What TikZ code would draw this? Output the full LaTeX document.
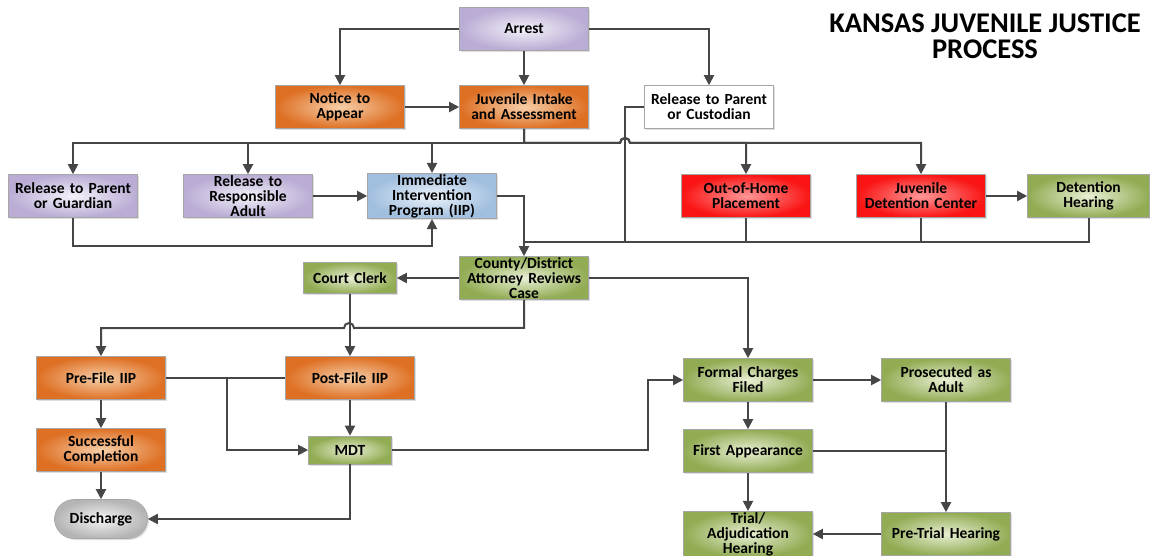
\documentclass[tikz,border=0pt]{standalone}
\usepackage{fontspec}
\setmainfont{Carlito}
\usepackage{tikz}
\usetikzlibrary{shapes.geometric, shapes.misc, arrows.meta, shadows}
\usepackage{xcolor}
\definecolor{linegray}{RGB}{70,70,70}
\definecolor{purpout}{RGB}{186,172,212}
\definecolor{purpin}{RGB}{244,241,249}
\definecolor{orgout}{RGB}{222,112,36}
\definecolor{orgin}{RGB}{246,206,168}
\definecolor{blueout}{RGB}{160,190,222}
\definecolor{bluein}{RGB}{236,243,250}
\definecolor{redout}{RGB}{250,20,20}
\definecolor{redin}{RGB}{255,150,150}
\definecolor{grnout}{RGB}{146,172,84}
\definecolor{grnin}{RGB}{232,239,212}
\definecolor{grayout}{RGB}{180,180,180}
\definecolor{grayin}{RGB}{245,245,245}
\tikzstyle{whrect} = [rectangle,
minimum width=129pt,
minimum height=43pt,
text centered,
text width=126pt,
inner sep=1pt,
font=\fontsize{15.5}{15}\selectfont\bfseries,
draw=black!35, line width=0.6pt,
drop shadow={shadow xshift=1.5pt, shadow yshift=-1.5pt, opacity=0.25}]
\tikzstyle{purprect} = [whrect, inner color=purpin, outer color=purpout]
\tikzstyle{orgrect} = [whrect, inner color=orgin, outer color=orgout]
\tikzstyle{bluerect} = [whrect, inner color=bluein, outer color=blueout]
\tikzstyle{redrect} = [whrect, inner color=redin, outer color=redout]
\tikzstyle{grnrect} = [whrect, inner color=grnin, outer color=grnout]
\tikzstyle{whiterect} = [whrect, fill=white]
\tikzstyle{discrect} = [whrect, rounded rectangle, minimum width=95pt, minimum height=39pt,
text width=85pt, inner color=grayin, outer color=grayout]
\tikzstyle{arrline} = [-{Triangle[length=10pt,width=10pt]}, draw=linegray, line width=2pt]
\tikzstyle{plainline} = [draw=linegray, line width=2pt]

\begin{document}
\begin{tikzpicture}[x=1pt, y=1pt]
		\useasboundingbox (0,0) rectangle (1150,-556);
		% top rows
		\node (arrest) [purprect] at (524,-29) {Arrest};
		\node (notice) [orgrect] at (340,-107) {Notice to\\Appear};
		\node (intake) [orgrect] at (524,-107) {Juvenile Intake\\and Assessment};
		\node (custodian) [whiterect] at (709,-107) {Release to Parent\\or Custodian};
		\node (title) [align=center, font=\fontsize{28.5}{26}\selectfont\bfseries] at (985,-36) {KANSAS JUVENILE JUSTICE\\PROCESS};
		
		\node (guardian) [purprect] at (73,-196) {Release to Parent\\or Guardian};
		\node (responsible) [purprect] at (248,-196) {Release to\\Responsible\\Adult};
		\node (iip) [bluerect] at (432,-196) {Immediate\\Intervention\\Program (IIP)};
		\node (outhome) [redrect] at (746,-196) {Out-of-Home\\Placement};
		\node (detention) [redrect] at (921,-196) {Juvenile\\Detention Center};
		\node (dhearing) [grnrect, minimum width=122pt, text width=118pt] at (1088.5,-196) {Detention\\Hearing};
		
		% middle and bottom
		\node (county) [grnrect] at (524,-278) {County/District\\Attorney Reviews\\Case};
		\node (clerk) [grnrect, minimum width=93pt, minimum height=31pt, text width=90pt] at (350,-278) {Court Clerk};
		\node (prefile) [orgrect] at (101,-378) {Pre-File IIP};
		\node (postfile) [orgrect] at (350,-378) {Post-File IIP};
		\node (success) [orgrect] at (101,-450) {Successful\\Completion};
		\node (mdt) [grnrect, minimum width=83pt, minimum height=28pt, text width=80pt] at (350,-450) {MDT};
		\node (discharge) [discrect] at (101,-519) {Discharge};
		\node (formal) [grnrect] at (748,-380) {Formal Charges\\Filed};
		\node (prosecuted) [grnrect] at (946,-380) {Prosecuted as\\Adult};
		\node (first) [grnrect] at (748,-451) {First Appearance};
		\node (trial) [grnrect] at (748,-534) {Trial/\\Adjudication\\Hearing};
		\node (pretrial) [grnrect] at (946,-534) {Pre-Trial Hearing};
		
		\coordinate (hop) at (625,-143);
		\coordinate (lowbus) at (524,-242);
		\coordinate (mdtjoin) at (227,-378);
		
		\draw [arrline](arrest.west) -| (notice.north);
		\draw [arrline](arrest) -- (intake);
		\draw [arrline](arrest.east) -| (custodian.north);
		\draw [arrline](notice) -- (intake);
		
		\draw [arrline](intake.south) -- (intake.south |- hop) -| (guardian.north);
		\draw [arrline](intake.south) -- (intake.south |- hop) -| (responsible.north);
		\draw [arrline](intake.south) -- (intake.south |- hop) -| (iip.north);
		\draw [arrline](intake.south) -- (intake.south |- hop) -- ([xshift=-5pt]hop) arc (180:0:5pt) -| (outhome.north);
		\draw [arrline](intake.south) -- (intake.south |- hop) -- ([xshift=-5pt]hop) arc (180:0:5pt) -| (detention.north);
		\draw [plainline](custodian.west) -| (hop) |- (lowbus);
		
		\draw [arrline](responsible) -- (iip);
		\draw [arrline](detention) -- (dhearing);
		\draw [arrline](guardian.south) -- ++(0,-28) -| (iip.south);
		\draw [arrline](iip.east) -| (county.north);
		\draw [plainline](outhome.south) |- (lowbus);
		\draw [plainline](detention.south) |- (lowbus);
		\draw [plainline](dhearing.south) |- (lowbus);
		
		\draw [arrline](county) -- (clerk);
		\draw [arrline](county.east) -| (formal.north);
		\draw [arrline](county.south) -- ++(0,-28) -- (354,-328) arc (0:180:5pt) -| (prefile.north);
		\draw [arrline](clerk) -- (postfile);
		
		\draw [arrline](prefile) -- (success);
		\draw [arrline](success) -- (discharge);
		\draw [plainline](prefile) -- (postfile);
		\draw [arrline](mdtjoin) |- (mdt.west);
		\draw [arrline](postfile) -- (mdt);
		\draw [arrline](mdt.south) |- (discharge.east);
		\draw [arrline](mdt.east) -- ++(256,0) |- (formal.west);
		
		\draw [arrline](formal) -- (prosecuted);
		\draw [arrline](formal) -- (first);
		\draw [arrline](first) -- (trial);
		\draw [arrline](prosecuted) -- (pretrial);
		\draw [plainline](first.east) -- (first.east -| pretrial.north);
		\draw [arrline](pretrial) -- (trial);
	\end{tikzpicture}
\end{document}
